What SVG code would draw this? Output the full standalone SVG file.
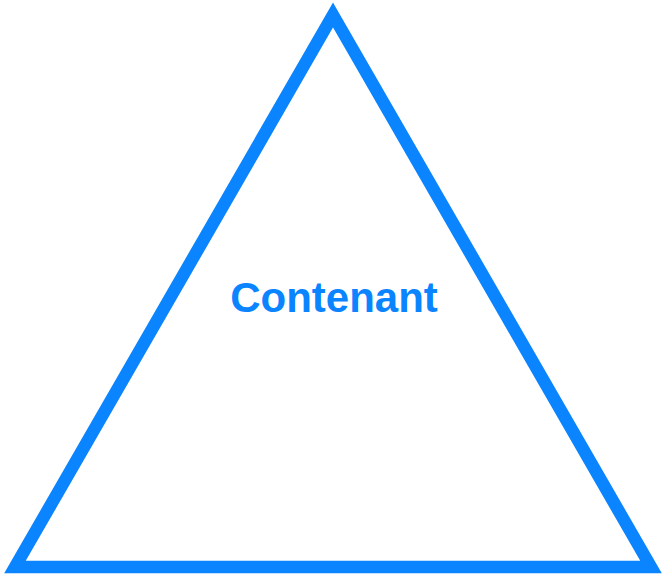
<svg xmlns="http://www.w3.org/2000/svg" width="664" height="576" viewBox="0 0 664 576">
<style>
.tri{fill:none;stroke:#0a84ff;stroke-width:12.5;stroke-linejoin:miter;stroke-miterlimit:10}
.lbl{font-family:"Liberation Sans",Arial,sans-serif;font-weight:bold;font-size:42px;fill:#0a84ff;text-anchor:middle}
</style>
<rect width="664" height="576" fill="#ffffff"/>
<g id="contenant">
<polygon class="tri" points="333,15 651,567 15,567"/>
<text class="lbl" x="334" y="312">Contenant</text>
</g>
</svg>
